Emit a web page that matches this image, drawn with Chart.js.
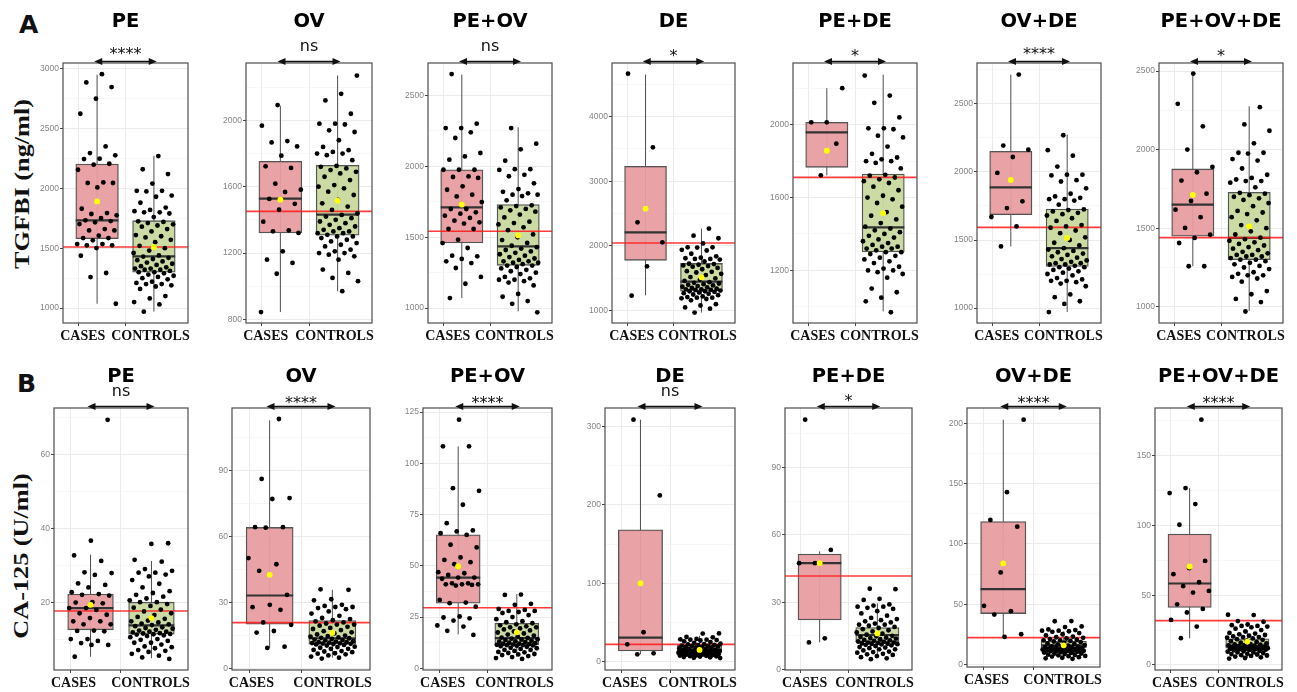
<!DOCTYPE html>
<html><head><meta charset="utf-8">
<script src="https://cdn.jsdelivr.net/npm/chart.js@4/dist/chart.umd.min.js"></script>
<style>
html,body{margin:0;padding:0;background:#fff;width:1297px;height:692px;overflow:hidden;position:relative;}
canvas{position:absolute;}
.lab{position:absolute;font-family:'DejaVu Sans',sans-serif;font-weight:bold;font-size:25px;line-height:25px;color:#111;}
.ytitle{position:absolute;width:300px;height:24px;line-height:24px;text-align:center;font-family:'Liberation Serif',serif;font-weight:bold;font-size:21px;color:#111;white-space:nowrap;transform-origin:center center;transform:rotate(-90deg) scaleX(1.25);}
</style></head><body>
<div class="lab" style="left:19px;top:12px">A</div>
<div class="lab" style="left:17px;top:371px">B</div>
<div class="ytitle" style="left:-128px;top:172px">TGFBI (ng/ml)</div>
<div class="ytitle" style="left:-129px;top:544px">CA-125 (U/ml)</div>
<script>
// ---------- data ----------
const groups = ['CASES', 'CONTROLS'];
const comparisons = ['PE', 'OV', 'PE+OV', 'DE', 'PE+DE', 'OV+DE', 'PE+OV+DE'];
const sigTGFBI = ['****', 'ns', 'ns', '*', '*', '****', '*'];
const sigCA125 = ['ns', '****', '****', 'ns', '*', '****', '****'];

// TGFBI (ng/ml) case values per comparison
const tgfbiPE = [2955, 2886, 2847, 2750, 2624, 2351, 2295, 2276, 2248, 2245, 2206, 2198, 2156, 2050, 2045, 2045, 2008, 1830, 1794, 1786, 1775, 1752, 1733, 1727, 1716, 1702, 1660, 1649, 1649, 1605, 1585, 1585, 1566, 1535, 1535, 1524, 1524, 1501, 1437, 1293, 1259, 1036];
const tgfbiOV = [2092, 1968, 1875, 1867, 1843, 1787, 1723, 1713, 1618, 1582, 1568, 1526, 1497, 1461, 1389, 1337, 1331, 1321, 1210, 1160, 1140, 1075, 844];
const tgfbiPEOV = [2651, 2301, 2270, 2270, 2240, 2200, 2094, 2070, 2047, 1976, 1976, 1976, 1929, 1925, 1918, 1859, 1835, 1800, 1788, 1748, 1699, 1699, 1676, 1666, 1652, 1636, 1617, 1605, 1596, 1558, 1558, 1483, 1459, 1424, 1370, 1365, 1347, 1330, 1318, 1283, 1220, 1172, 1071];
const tgfbiDE = [4665, 3526, 2366, 2057, 1686, 1232];
const tgfbiPEDE = [2201, 2013, 2013, 1896, 1722];
const tgfbiOVDE = [2716, 2194, 2164, 2110, 1993, 1784, 1735, 1669, 1600, 1453];
const tgfbiPEOVDE = [2484, 2291, 2148, 2000, 1890, 1856, 1803, 1720, 1673, 1618, 1570, 1502, 1459, 1438, 1406, 1258, 1258];
// TGFBI control values (same control group in every comparison)
const tgfbiControls = [2270, 2160, 2120, 2040, 1980, 1980, 1975, 1940, 1930, 1880, 1840, 1820, 1810, 1800, 1800, 1790, 1760, 1725, 1720, 1710, 1700, 1690, 1680, 1660, 1640, 1610, 1600, 1590, 1570, 1550, 1520, 1500, 1480, 1460, 1440, 1430, 1420, 1410, 1400, 1390, 1380, 1370, 1360, 1350, 1340, 1330, 1330, 1320, 1320, 1310, 1300, 1300, 1290, 1280, 1270, 1260, 1250, 1240, 1220, 1210, 1200, 1200, 1190, 1180, 1160, 1100, 1080, 1050, 1030, 970];

// CA-125 (U/ml) case values per comparison
const caPE = [69.5, 36.7, 32.7, 31.2, 28.1, 27.9, 27.4, 25.1, 24.7, 24.0, 22.7, 22.2, 22.0, 21.8, 20.0, 19.9, 19.7, 18.4, 18.4, 17.9, 17.0, 16.6, 15.7, 14.8, 14.8, 14.0, 14.0, 12.3, 12.2, 12.1, 10.0, 10.0, 9.5, 8.9, 8.4, 8.4, 5.2];
const caOV = [113.3, 86.1, 77.4, 77.0, 64.2, 64.2, 64.0, 50.2, 47.4, 44.4, 33.5, 29.0, 27.9, 26.7, 21.0, 19.9, 17.1, 16.4, 10.0, 9.4];
const caPEOV = [121.3, 108.3, 108.3, 87.9, 86.6, 79.8, 70.8, 67.3, 66.8, 65.9, 65.1, 60.3, 59.0, 54.1, 52.9, 51.8, 50.8, 46.9, 46.4, 45.6, 44.3, 44.3, 43.7, 41.5, 41.5, 41.0, 41.0, 41.0, 40.7, 40.4, 33.4, 32.1, 31.8, 30.1, 25.3, 24.8, 24.4, 23.3, 20.9, 20.4, 18.3, 16.3];
const caDE = [308.5, 211.9, 37.5, 22.1, 10.6, 9.4];
const caPEDE = [111.3, 53.3, 47.4, 47.4, 13.9, 12.1];
const caOVDE = [203.3, 143.1, 120.0, 114.4, 76.4, 48.6, 44.2, 41.4, 25.0, 22.8];
const caPEOVDE = [175.8, 126.8, 123.2, 115.3, 100.5, 74.6, 69.4, 65.1, 59.3, 56.5, 53.1, 51.9, 43.5, 40.2, 37.6, 32.3, 27.5, 19.2];
const caControls = [36.0, 35.8, 31.5, 31.0, 29.0, 28.5, 28.0, 28.0, 27.5, 27.0, 26.0, 25.0, 24.0, 23.0, 22.5, 22.0, 21.5, 21.0, 20.5, 20.0, 20.0, 19.5, 19.0, 18.5, 18.0, 17.5, 17.0, 16.5, 16.0, 15.5, 15.0, 14.8, 14.5, 14.2, 14.0, 13.8, 13.5, 13.2, 13.0, 12.8, 12.5, 12.3, 12.0, 12.0, 11.8, 11.6, 11.5, 11.4, 11.3, 11.2, 11.0, 10.8, 10.5, 10.0, 9.8, 9.5, 9.0, 9.0, 8.5, 8.0, 7.8, 7.5, 7.0, 6.8, 6.5, 6.0, 5.5, 5.0, 4.6];

// box statistics [whisker low, Q1, median, Q3, whisker high]
const tgfbiCaseBox = [[1036, 1580, 1733, 2203, 2950], [844, 1321, 1528, 1753, 2088], [1071, 1459, 1711, 1976, 2647], [1237, 1778, 2211, 3232, 4650], [1722, 1766, 1958, 2013, 2201], [1453, 1686, 1887, 2152, 2716], [1258, 1449, 1650, 1877, 2477]];
const tgfbiCtrlBox = [[970, 1300, 1432, 1730, 2272], [969, 1307, 1431, 1729, 2271], [977, 1302, 1436, 1730, 2275], [970, 1300, 1450, 1730, 2270], [975, 1301, 1436, 1729, 2275], [971, 1306, 1441, 1728, 2275], [973, 1300, 1438, 1728, 2276]];
const caCaseBox = [[5.2, 12.5, 18.4, 22.2, 32.9], [9.5, 20.2, 33.2, 64.1, 112.7], [16.6, 31.8, 44.3, 65.1, 108.3], [9.4, 13.6, 30.6, 168.1, 308.5], [12.1, 22.1, 47.4, 51.4, 52.6], [22.8, 42.2, 62.5, 118.6, 203.3], [19.2, 41.2, 58.4, 93.8, 126.8]];
const caCtrlBox = [[4.8, 11.3, 13.7, 20.0, 31.2], [5.0, 11.1, 13.8, 21.8, 35.8], [5.7, 11.4, 14.7, 22.0, 36.2], [5.0, 11.0, 14.0, 21.0, 33.0], [6.8, 12.4, 15.4, 18.7, 29.5], [4.7, 13.6, 15.8, 19.2, 27.5], [5.0, 12.0, 13.9, 18.7, 25.1]];
// means (yellow points) and cut-off lines (red)
const tgfbiCaseMean = [1891, 1522, 1730, 2577, 1857, 1941, 1712];
const tgfbiCtrlMean = [1510, 1516, 1513, 1515, 1515, 1515, 1512];
const caCaseMean = [19.3, 42.6, 49.8, 100.0, 47.4, 83.9, 70.6];
const caCtrlMean = [15.7, 16.3, 17.6, 15.0, 16.1, 15.8, 16.8];
const tgfbiCutoff = [1510, 1451, 1542, 2046, 1711, 1593, 1440];
const caCutoff = [17.6, 20.9, 29.6, 22.1, 41.7, 22.2, 31.8];

// axis ranges and tick steps
const tgfbiYMin = [875, 778, 895, 809, 911, 890, 897];
const tgfbiYMax = [3048, 2346, 2729, 4830, 2339, 2801, 2551];
const tgfbiYStep = [500, 400, 500, 1000, 400, 500, 500];
const caYMin = [1.6, -0.6, -0.8, -10.6, -0.2, -2.2, -3.6];
const caYMax = [72.7, 118.3, 127, 323.4, 116.5, 213, 184.2];
const caYStep = [20, 30, 25, 100, 30, 50, 50];

// ---------- layout (page pixels of each plot area) ----------
const layoutA = { T: [63, 63, 63, 63, 63, 63, 63], B: [323, 323, 323, 323, 323, 323, 323], L: [63, 246, 428, 612, 793, 977, 1159], R: [188, 372, 552, 735, 917, 1101, 1283] };
const layoutB = { T: [408, 408, 408, 408, 408, 408, 408], B: [670, 670, 670, 670, 670, 667, 670], L: [54, 232, 423, 605, 785, 967, 1155], R: [188, 370, 552, 735, 912, 1100, 1282] };

const rows = [
  { cases: [tgfbiPE, tgfbiOV, tgfbiPEOV, tgfbiDE, tgfbiPEDE, tgfbiOVDE, tgfbiPEOVDE], ctrl: tgfbiControls, caseBox: tgfbiCaseBox, ctrlBox: tgfbiCtrlBox, caseMean: tgfbiCaseMean, ctrlMean: tgfbiCtrlMean, cutoff: tgfbiCutoff, ymin: tgfbiYMin, ymax: tgfbiYMax, ystep: tgfbiYStep, sig: sigTGFBI, lay: layoutA, titleMid: 21.7, subMid: { 'ns': 46.7, '*': 56.5, '****': 55 } },
  { cases: [caPE, caOV, caPEOV, caDE, caPEDE, caOVDE, caPEOVDE], ctrl: caControls, caseBox: caCaseBox, ctrlBox: caCtrlBox, caseMean: caCaseMean, ctrlMean: caCtrlMean, cutoff: caCutoff, ymin: caYMin, ymax: caYMax, ystep: caYStep, sig: sigCA125, lay: layoutB, titleMid: 32, subMid: { 'ns': 46.7, '*': 57, '****': 58.5 } }
];

const PINK = 'rgba(232,158,161,0.95)';
const GREEN = 'rgba(200,217,158,0.95)';

function jit(i, seed) {
  const f = ((i + 1) * 0.6180339887 + seed * 0.2718281828) % 1;
  return (f - 0.5) * 0.72;
}

const panelDeco = {
  id: 'panelDeco',
  afterDatasetsDraw(chart) {
    const { ctx, chartArea: a, scales: { x } } = chart;
    ctx.save();
    ctx.strokeStyle = '#4d4d4d';
    ctx.lineWidth = 1.2;
    ctx.strokeRect(a.left, a.top, a.right - a.left, a.bottom - a.top);
    // significance double arrow
    const y = a.top - 1.5;
    const x1 = x.getPixelForValue(0.95), x2 = x.getPixelForValue(2.05);
    ctx.strokeStyle = '#111'; ctx.fillStyle = '#111'; ctx.lineWidth = 1.6;
    ctx.beginPath(); ctx.moveTo(x1 + 4, y); ctx.lineTo(x2 - 4, y); ctx.stroke();
    ctx.beginPath(); ctx.moveTo(x1, y); ctx.lineTo(x1 + 8, y - 3.6); ctx.lineTo(x1 + 8, y + 3.6); ctx.closePath(); ctx.fill();
    ctx.beginPath(); ctx.moveTo(x2, y); ctx.lineTo(x2 - 8, y - 3.6); ctx.lineTo(x2 - 8, y + 3.6); ctx.closePath(); ctx.fill();
    ctx.restore();
  }
};

Chart.defaults.font.family = "'DejaVu Sans', sans-serif";

function buildPanel(r, k) {
  const row = rows[r];
  const lay = row.lay;
  const L = lay.L[k], R = lay.R[k], T = lay.T[k], B = lay.B[k];
  const AXW = 40, XH = 34, PADR = 4, PADB = 2, TOPH = 63;
  const w = R - L + AXW + PADR;
  const h = B - T + TOPH + XH + PADB;
  const cv = document.createElement('canvas');
  cv.width = w; cv.height = h;
  cv.style.width = w + 'px'; cv.style.height = h + 'px';
  cv.style.left = (L - AXW) + 'px'; cv.style.top = (T - TOPH) + 'px';
  document.body.appendChild(cv);

  const sig = row.sig[k];
  const tLH = 19.5 * 0.8, sLH = 16 * 0.5;
  const tPadTop = row.titleMid - tLH / 2;
  const tBottom = row.titleMid + tLH / 2;
  const sMid = row.subMid[sig];
  const sPadTop = Math.max(0, sMid - sLH / 2 - tBottom);
  const sPadBot = TOPH - (tBottom + sPadTop + sLH);

  const cb = row.caseBox[k], kb = row.ctrlBox[k];
  const unitPx = (R - L) / 2.2;
  const ymin = row.ymin[k], ymax = row.ymax[k], step = row.ystep[k];

  const casePts = row.cases[k].map((v, i) => ({ x: 1 + jit(i, k * 3 + r), y: v }));
  const ctrlPts = row.ctrl.map((v, i) => ({ x: 2 + jit(i, k * 5 + r + 11), y: v }));

  new Chart(cv, {
    type: 'scatter',
    data: {
      datasets: [
        { type: 'line', data: [{ x: 1, y: cb[0] }, { x: 1, y: cb[4] }], borderColor: '#4d4d4d', borderWidth: 1, pointRadius: 0, order: 10 },
        { type: 'line', data: [{ x: 2, y: kb[0] }, { x: 2, y: kb[4] }], borderColor: '#4d4d4d', borderWidth: 1, pointRadius: 0, order: 10 },
        { type: 'bar', data: [{ x: 1, y: [cb[1], cb[3]] }, { x: 2, y: [kb[1], kb[3]] }], backgroundColor: [PINK, GREEN], borderColor: '#555', borderWidth: 1.3, borderSkipped: false, barThickness: 0.75 * unitPx, order: 9 },
        { type: 'line', data: [{ x: 0.625, y: cb[2] }, { x: 1.375, y: cb[2] }], borderColor: '#333', borderWidth: 2.2, pointRadius: 0, order: 8 },
        { type: 'line', data: [{ x: 1.625, y: kb[2] }, { x: 2.375, y: kb[2] }], borderColor: '#333', borderWidth: 2.2, pointRadius: 0, order: 8 },
        { type: 'line', data: [{ x: 0.4, y: row.cutoff[k] }, { x: 2.6, y: row.cutoff[k] }], borderColor: 'rgba(255,25,25,0.85)', borderWidth: 1.6, pointRadius: 0, order: 7 },
        { label: groups[0], data: casePts, pointRadius: 2.4, pointBorderWidth: 0, backgroundColor: '#000', order: 3 },
        { label: groups[1], data: ctrlPts, pointRadius: 2.4, pointBorderWidth: 0, backgroundColor: '#000', order: 3 },
        { label: 'mean', data: [{ x: 1, y: row.caseMean[k] }, { x: 2, y: row.ctrlMean[k] }], pointRadius: 2.9, pointBorderWidth: 0, backgroundColor: '#ffff00', order: 1 }
      ]
    },
    options: {
      responsive: false, animation: false, devicePixelRatio: 1, events: [],
      layout: { padding: { left: 0, right: PADR, top: 0, bottom: PADB }, autoPadding: false },
      plugins: {
        legend: { display: false }, tooltip: { enabled: false },
        title: { display: true, text: comparisons[k], fullSize: false, color: '#000', font: { family: "'DejaVu Sans', sans-serif", weight: 'bold', size: 19.5, lineHeight: 0.8 }, padding: { top: tPadTop, bottom: 0 } },
        subtitle: { display: true, text: sig, fullSize: false, color: '#111', font: { family: "'DejaVu Sans', sans-serif", size: 16, lineHeight: 0.5 }, padding: { top: sPadTop, bottom: sPadBot } }
      },
      scales: {
        x: {
          type: 'linear', min: 0.4, max: 2.6, offset: false,
          afterFit: (s) => { s.height = XH; },
          afterBuildTicks: (s) => { s.ticks = [{ value: 0.35, lab: groups[0] }, { value: 1, lab: '' }, { value: 2, lab: '' }, { value: 2.63, lab: groups[1] }]; },
          border: { display: false },
          grid: {
            color: (c) => (c.tick && (c.tick.value === 1 || c.tick.value === 2)) ? '#ebebeb' : 'rgba(0,0,0,0)',
            tickColor: (c) => (c.tick && (c.tick.value === 1 || c.tick.value === 2)) ? '#444' : 'rgba(0,0,0,0)',
            tickLength: 3, lineWidth: 1
          },
          ticks: {
            autoSkip: false, maxRotation: 0, minRotation: 0, align: 'inner', padding: 2,
            color: '#111', font: { family: "'Liberation Serif', serif", weight: 'bold', size: 14 },
            callback: (v, i, t) => t[i].lab
          }
        },
        y: {
          type: 'linear', min: ymin, max: ymax,
          afterFit: (s) => { s.width = AXW; },
          afterBuildTicks: (s) => {
            const half = step / 2, arr = [];
            for (let v = Math.ceil(ymin / half) * half; v <= ymax + 1e-9; v += half) {
              const vv = Math.round(v * 1000) / 1000;
              arr.push({ value: vv, mj: Math.abs(vv / step - Math.round(vv / step)) < 1e-6 });
            }
            s.ticks = arr;
          },
          border: { display: false },
          grid: {
            color: (c) => (c.tick && c.tick.mj) ? '#ebebeb' : '#f4f4f4',
            lineWidth: (c) => (c.tick && c.tick.mj) ? 1 : 0.7,
            tickColor: (c) => (c.tick && c.tick.mj) ? '#444' : 'rgba(0,0,0,0)',
            tickLength: 3
          },
          ticks: {
            autoSkip: false, padding: 1, color: '#858585',
            font: { family: "'Liberation Sans', sans-serif", size: 8.5 },
            callback: (v, i, t) => t[i].mj ? String(v) : ''
          }
        }
      }
    },
    plugins: [panelDeco]
  });
}

for (let r = 0; r < 2; r++) for (let k = 0; k < 7; k++) buildPanel(r, k);
</script>
</body></html>
